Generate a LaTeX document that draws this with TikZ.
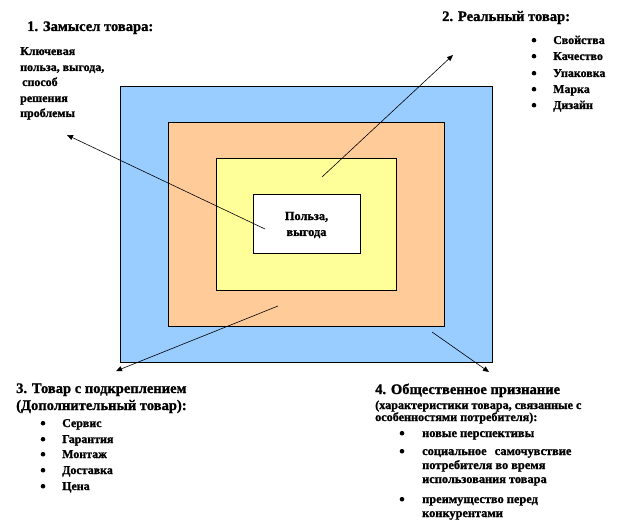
\documentclass[tikz,border=0pt]{standalone}
\usepackage{fontspec}
\setmainfont{Liberation Serif}[BoldFeatures={FakeBold=1.2}]
\usetikzlibrary{arrows.meta}
\definecolor{cblue}{HTML}{99CCFF}
\definecolor{corange}{HTML}{FFCC99}
\definecolor{cyellow}{HTML}{FFFF99}
\tikzset{
  layer/.style={draw=black, line width=0.9bp, inner sep=0, anchor=center},
  head/.style={anchor=base west, inner sep=0, font=\bfseries\fontsize{14.6}{16}\selectfont},
  body/.style={anchor=base west, inner sep=0, font=\bfseries\fontsize{12}{15}\selectfont},
  body4/.style={anchor=base west, inner sep=0, font=\bfseries\fontsize{12.4}{15}\selectfont},
  small/.style={anchor=base west, inner sep=0, font=\bfseries\fontsize{12.2}{13}\selectfont},
  bul/.style={circle, fill=black, inner sep=0, minimum size=4.6bp},
  arr/.style={line width=0.6bp, -{Triangle[length=6bp,width=5bp]}}
}
\begin{document}
\begin{tikzpicture}[x=1bp,y=-1bp]
\useasboundingbox (0,0) rectangle (619,532);
% nested rectangles
\node[layer, fill=cblue, minimum width=372bp, minimum height=276bp] (blue) at (306,224) {};
\node[layer, fill=corange, minimum width=276bp, minimum height=204bp] (orange) at (306,224) {};
\node[layer, fill=cyellow, minimum width=180bp, minimum height=132bp] (yellow) at (306,224) {};
\node[layer, fill=white, minimum width=107bp, minimum height=59bp] (core) at (306.5,223.5) {};
\node[align=center, inner sep=0, font=\bfseries\fontsize{12.4}{16}\selectfont] (coretxt) at (306.5,225) {Польза,\\выгода};
% heading 1
\node[head] (h1) at (27,31) {1. Замысел товара:};
\node[body] (t1a) at (20,55) {Ключевая};
\node[body] (t1b) at (20,71) {польза, выгода,};
\node[body] (t1c) at (22,86) {способ};
\node[body] (t1d) at (20,102) {решения};
\node[body] (t1e) at (20,117) {проблемы};
% heading 2
\node[head] (h2) at (442,21) {2. Реальный товар:};
\foreach \y/\t [count=\i] in {44/Свойства,60/Качество,77/Упаковка,93/Марка,109/Дизайн}{
  \node[bul] (b2\i) at (534,\y-3.8) {};
  \node[body] (i2\i) at (553,\y) {\t};
}
% heading 3
\node[head] (h3) at (16,393) {3. Товар с подкреплением};
\node[head] (h3b) at (16,410) {(Дополнительный товар):};
\foreach \y/\t [count=\i] in {427/Сервис,443/Гарантия,458/Монтаж,474/Доставка,490/Цена}{
  \node[bul] (b3\i) at (43,\y-3.8) {};
  \node[body] (i3\i) at (62,\y) {\t};
}
% heading 4
\node[head] (h4) at (375,394) {4. Общественное признание};
\node[small] (h4b) at (375,409) {(характеристики товара, связанные с};
\node[small] (h4c) at (375,421) {особенностями потребителя):};
\node[bul] (b41) at (402,437-3.8) {};
\node[body4] (i41) at (422,437) {новые перспективы};
\node[bul] (b42) at (402,455-3.8) {};
\node[body4] (i42a) at (422,455) {социальное\hspace{5bp} самочувствие};
\node[body4] (i42b) at (422,469) {потребителя во время};
\node[body4] (i42c) at (422,483) {использования товара};
\node[bul] (b43) at (402,503-3.8) {};
\node[body4] (i43a) at (422,503) {преимущество перед};
\node[body4] (i43b) at (422,517) {конкурентами};
% arrows
\coordinate (s1) at (265,229); \coordinate (e1) at (67,135);
\coordinate (s2) at (322,177); \coordinate (e2) at (453,55);
\coordinate (s3) at (278,306); \coordinate (e3) at (116,371);
\coordinate (s4) at (432,332); \coordinate (e4) at (489,372);
\draw[arr] (s1) -- (e1);
\draw[arr] (s2) -- (e2);
\draw[arr] (s3) -- (e3);
\draw[arr] (s4) -- (e4);
\end{tikzpicture}
\end{document}
